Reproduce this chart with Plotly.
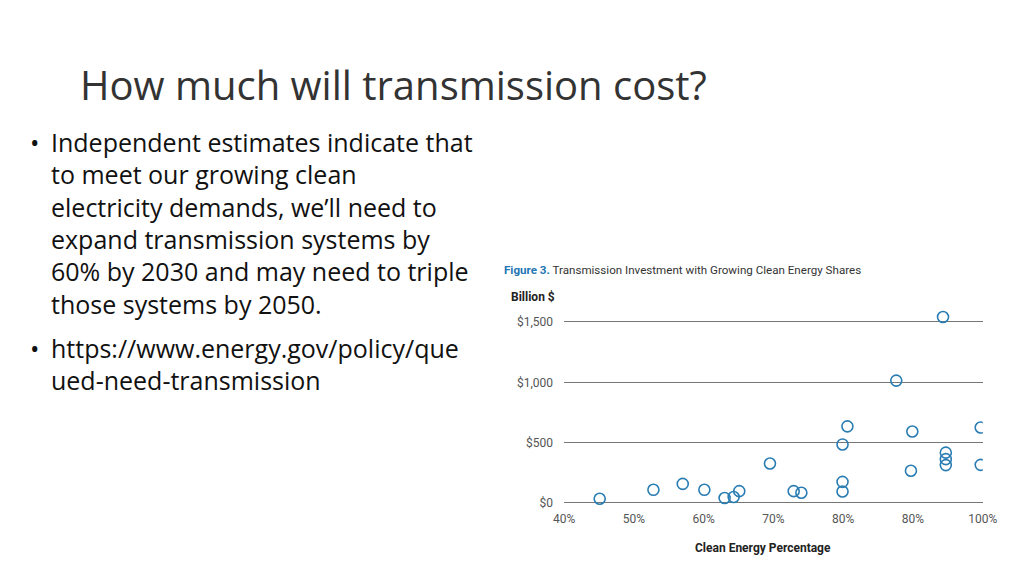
import plotly.graph_objects as go

clean_pct = [45.1, 52.8, 57.0, 60.1, 63.0, 64.3, 65.1, 69.5, 72.9, 74.0, 79.9, 80.6,
             79.9, 79.9, 87.6, 89.9, 89.7, 94.3, 94.7, 94.7, 94.7, 99.7, 99.7]
invest = [35, 109, 158, 109, 41, 49, 98, 327, 98, 85, 485, 635,
          175, 95, 1014, 592, 267, 1541, 417, 363, 314, 625, 316]
x_ticks = [40, 50, 60, 70, 80, 90, 100]
x_labels = ["40%", "50%", "60%", "70%", "80%", "80%", "100%"]
y_ticks = [0, 500, 1000, 1500]
y_labels = ["$0", "$500", "$1,000", "$1,500"]

fig = go.Figure(go.Scatter(
    x=clean_pct, y=invest, mode="markers",
    marker=dict(symbol="circle-open", size=11, color="#2a7db3", line=dict(width=1.6)),
))

W, H = 1024, 576
fig.update_layout(
    width=W, height=H, margin=dict(l=0, r=0, t=0, b=0),
    paper_bgcolor="white", plot_bgcolor="white", showlegend=False,
    xaxis=dict(domain=[559.3/W, 988.9/W], range=[40, 100], tickvals=x_ticks, ticktext=x_labels,
               showgrid=False, zeroline=False, showline=False, ticks="",
               tickfont=dict(family="Roboto", size=12, color="#555")),
    yaxis=dict(domain=[1-502.2/H, 1-299.5/H], range=[-60, 1620], tickvals=y_ticks, ticktext=y_labels,
               showgrid=True, gridcolor="#777", gridwidth=1.2, zeroline=False, showline=False,
               ticks="", ticklabelstandoff=10, tickfont=dict(family="Roboto", size=12, color="#555")),
)

def ann(text, x, y, size, color="#222", family="Open Sans", anchor="left"):
    fig.add_annotation(text=text, x=x/W, y=1-y/H, xref="paper", yref="paper",
                       xanchor=anchor, yanchor="middle", showarrow=False,
                       font=dict(size=size, color=color, family=family))

ann("How much will transmission cost?", 60.8, 76.4, 40, "#333", "Open Sans")
lines = [("•", "Independent estimates indicate that"),
         ("", "to meet our growing clean"),
         ("", "electricity demands, we’ll need to"),
         ("", "expand transmission systems by"),
         ("", "60% by 2030 and may need to triple"),
         ("", "those systems by 2050."),
         ("•", "https://www.energy.gov/policy/que"),
         ("", "ued-need-transmission")]
ys = [133.7, 165.8, 199, 231.2, 263.3, 295.5, 339.7, 371.9]
for (b, t), y in zip(lines, ys):
    if b:
        ann(b, 9.5, y, 25, "#111", "Open Sans")
    ann(t, 31, y, 25, "#111", "Open Sans")

ann("<b><span style='color:#1f77b4'>Figure 3.</span></b> Transmission Investment with Growing Clean Energy Shares",
    495.6, 262.3, 11.6, "#333", "Roboto")
ann("<b>Billion $</b>", 502.8, 289.4, 12, "#222", "Roboto")
ann("<b>Clean Energy Percentage</b>", 763.8, 539.7, 12, "#222", "Roboto", anchor="center")

fig.write_html("out.html")
